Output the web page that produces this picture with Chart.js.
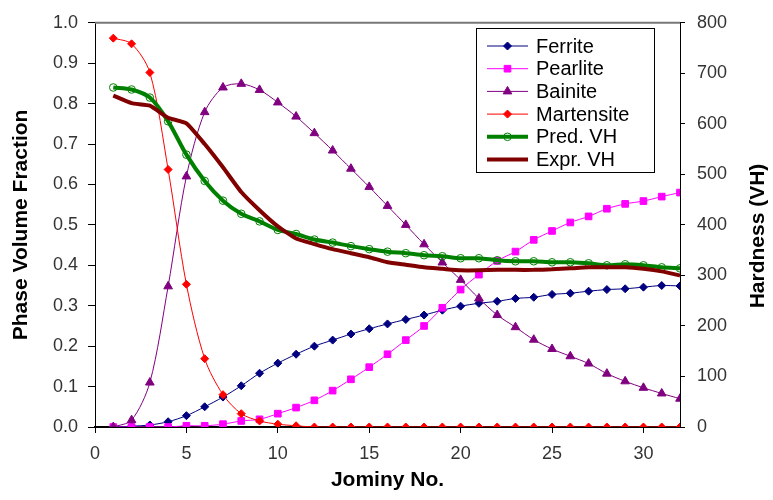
<!DOCTYPE html>
<html lang="en">

<head>
  <meta charset="UTF-8">
  <title>Jominy phases and hardness</title>
  <!-- Include Chart.js Library -->
  <script src="https://cdn.jsdelivr.net/npm/chart.js"></script>
  <style>
    html, body { margin: 0; padding: 0; background: #fff; }
    #wrap { width: 773px; height: 500px; }
  </style>
</head>

<body>
  <div id="wrap"><canvas id="jominyChart" width="773" height="500"></canvas></div>

  <script>
    // Data
    const jominy = [1, 2, 3, 4, 5, 6, 7, 8, 9, 10, 11, 12, 13, 14, 15, 16,
      17, 18, 19, 20, 21, 22, 23, 24, 25, 26, 27, 28, 29, 30, 31, 32];

    const ferrite = [0, 0.002, 0.005, 0.013, 0.028, 0.05, 0.074, 0.102, 0.133, 0.158, 0.18, 0.2, 0.215, 0.23, 0.243, 0.255,
      0.266, 0.277, 0.289, 0.299, 0.306, 0.311, 0.318, 0.321, 0.328, 0.331, 0.336, 0.34, 0.342, 0.346, 0.35, 0.349];

    const pearlite = [0, 0, 0, 0, 0.003, 0.003, 0.007, 0.015, 0.019, 0.033, 0.048, 0.066, 0.09, 0.118, 0.148, 0.18,
      0.215, 0.25, 0.295, 0.34, 0.377, 0.411, 0.434, 0.463, 0.485, 0.506, 0.521, 0.54, 0.552, 0.559, 0.57, 0.58];

    const bainite = [0, 0.017, 0.11, 0.348, 0.62, 0.779, 0.84, 0.849, 0.834, 0.803, 0.768, 0.727, 0.684, 0.639, 0.594, 0.547,
      0.5, 0.452, 0.407, 0.364, 0.318, 0.277, 0.247, 0.216, 0.193, 0.175, 0.157, 0.132, 0.113, 0.097, 0.083, 0.07];

    const martensite = [0.962, 0.948, 0.877, 0.637, 0.353, 0.169, 0.08, 0.033, 0.015, 0.007, 0.003, 0, 0, 0, 0, 0,
      0, 0, 0, 0, 0, 0, 0, 0, 0, 0, 0, 0, 0, 0, 0, 0];

    const predVH = [672, 668, 652, 605, 539, 487, 448, 422, 407, 390, 382, 371, 365, 358, 352, 347,
      344, 340, 338, 334, 334, 330, 328, 328, 326, 326, 324, 320, 322, 320, 316, 314];

    const exprVH = [656, 641, 636, 612, 601, 560, 514, 465, 429, 397, 373, 362, 352, 344, 336, 326,
      321, 316, 313, 310, 310, 311, 311, 311, 312, 314, 316, 316, 316, 313, 308, 300];

    const FONT = "'Liberation Sans', Arial, sans-serif";

    function pts(values) {
      return jominy.map((x, i) => ({ x: x, y: values[i] }));
    }

    function drawMarker(ctx, ds, x, y) {
      ctx.save();
      ctx.fillStyle = ds.pointBackgroundColor;
      ctx.strokeStyle = ds.pointBorderColor;
      ctx.lineWidth = 1;
      Chart.helpers.drawPoint(ctx, {
        pointStyle: ds.pointStyle,
        radius: ds.pointRadius,
        rotation: 0,
        borderWidth: 1
      }, x, y);
      ctx.restore();
    }

    // Legend drawn inside the plot, like the original
    const legendBox = {
      id: 'legendBox',
      afterDraw(chart) {
        const ctx = chart.ctx;
        ctx.save();
        ctx.fillStyle = '#fff';
        ctx.fillRect(476, 28, 178, 144);
        ctx.strokeStyle = '#000';
        ctx.lineWidth = 1;
        ctx.strokeRect(476.5, 28.5, 178, 144);

        chart.data.datasets.forEach((ds, row) => {
          const y = 46 + row * 22.7;
          ctx.strokeStyle = ds.borderColor;
          ctx.lineWidth = ds.borderWidth;
          ctx.beginPath();
          ctx.moveTo(487, y);
          ctx.lineTo(528, y);
          ctx.stroke();
          if (ds.pointRadius > 0) {
            drawMarker(ctx, ds, 507.5, y);
          }
          ctx.fillStyle = '#000';
          ctx.font = '20px ' + FONT;
          ctx.textAlign = 'left';
          ctx.textBaseline = 'middle';
          ctx.fillText(ds.label, 536, y + 1);
        });
        ctx.restore();
      }
    };

    // Top frame line and right axis title (reads bottom to top)
    const extras = {
      id: 'extras',
      afterDraw(chart) {
        const ctx = chart.ctx;
        const a = chart.chartArea;
        ctx.save();
        ctx.strokeStyle = '#777';
        ctx.lineWidth = 2;
        ctx.beginPath();
        ctx.moveTo(a.left, a.top);
        ctx.lineTo(a.right, a.top);
        ctx.stroke();

        ctx.translate(758, 236);
        ctx.rotate(-Math.PI / 2);
        ctx.fillStyle = '#000';
        ctx.font = 'bold 21px ' + FONT;
        ctx.textAlign = 'center';
        ctx.textBaseline = 'middle';
        ctx.fillText('Hardness (VH)', 0, 0);
        ctx.restore();
      }
    };

    const ctx = document.getElementById('jominyChart').getContext('2d');
    new Chart(ctx, {
      type: 'line',
      data: {
        datasets: [{
          label: 'Ferrite',
          data: pts(ferrite),
          yAxisID: 'y',
          borderColor: '#000080',
          backgroundColor: '#000080',
          pointBackgroundColor: '#000080',
          pointBorderColor: '#000080',
          borderWidth: 1,
          pointStyle: 'rectRot',
          pointRadius: 4,
          tension: 0.3,
          order: 6
        }, {
          label: 'Pearlite',
          data: pts(pearlite),
          yAxisID: 'y',
          borderColor: '#ff00ff',
          backgroundColor: '#ff00ff',
          pointBackgroundColor: '#ff00ff',
          pointBorderColor: '#ff00ff',
          borderWidth: 1,
          pointStyle: 'rect',
          pointRadius: 4.7,
          tension: 0.3,
          order: 5
        }, {
          label: 'Bainite',
          data: pts(bainite),
          yAxisID: 'y',
          borderColor: '#800080',
          backgroundColor: '#800080',
          pointBackgroundColor: '#800080',
          pointBorderColor: '#800080',
          borderWidth: 1,
          pointStyle: 'triangle',
          pointRadius: 5,
          tension: 0.3,
          order: 4
        }, {
          label: 'Martensite',
          data: pts(martensite),
          yAxisID: 'y',
          borderColor: '#ff0000',
          backgroundColor: '#ff0000',
          pointBackgroundColor: '#ff0000',
          pointBorderColor: '#ff0000',
          borderWidth: 1,
          pointStyle: 'rectRot',
          pointRadius: 4,
          tension: 0.3,
          order: 3
        }, {
          label: 'Pred. VH',
          data: pts(predVH),
          yAxisID: 'y1',
          borderColor: '#008000',
          backgroundColor: '#008000',
          pointBackgroundColor: 'rgba(255,255,255,0)',
          pointBorderColor: '#008000',
          pointBorderWidth: 1,
          borderWidth: 4,
          pointStyle: 'circle',
          pointRadius: 3.8,
          tension: 0.3,
          order: 2
        }, {
          label: 'Expr. VH',
          data: pts(exprVH),
          yAxisID: 'y1',
          borderColor: '#800000',
          backgroundColor: '#800000',
          borderWidth: 4,
          pointRadius: 0,
          tension: 0.15,
          order: 1
        }]
      },
      options: {
        responsive: false,
        animation: false,
        layout: { padding: { top: 17, left: 0, right: 0, bottom: 0 } },
        plugins: {
          legend: { display: false },
          tooltip: { enabled: false }
        },
        scales: {
          x: {
            type: 'linear',
            min: 0,
            max: 32,
            afterFit(scale) { scale.height = 73; },
            afterBuildTicks(scale) { scale.ticks = scale.ticks.filter(t => t.value % 5 === 0); },
            ticks: { stepSize: 5, padding: 10, color: '#333', font: { family: FONT, size: 18 } },
            grid: { drawOnChartArea: false, tickLength: 6, color: '#000' },
            border: { color: '#000', width: 2 },
            title: {
              display: true,
              text: 'Jominy No.',
              color: '#000',
              font: { family: FONT, size: 21, weight: 'bold' },
              padding: { top: 0, bottom: 7 }
            }
          },
          y: {
            position: 'left',
            min: 0,
            max: 1,
            afterFit(scale) { scale.width = 95; },
            ticks: { stepSize: 0.1, padding: 10, color: '#333', font: { family: FONT, size: 18 },
              callback: v => v.toFixed(1) },
            grid: { drawOnChartArea: false, tickLength: 7, color: '#000' },
            border: { color: '#000', width: 1 },
            title: {
              display: true,
              text: 'Phase Volume Fraction',
              color: '#000',
              font: { family: FONT, size: 21, weight: 'bold' },
              padding: { top: 9, bottom: 0 }
            }
          },
          y1: {
            position: 'right',
            min: 0,
            max: 800,
            afterFit(scale) { scale.width = 93; },
            ticks: { stepSize: 100, padding: 12, color: '#333', font: { family: FONT, size: 18 } },
            grid: { drawOnChartArea: false, tickLength: 5, color: '#000' },
            border: { color: '#000', width: 1 }
          }
        }
      },
      plugins: [legendBox, extras]
    });
  </script>
</body>

</html>
